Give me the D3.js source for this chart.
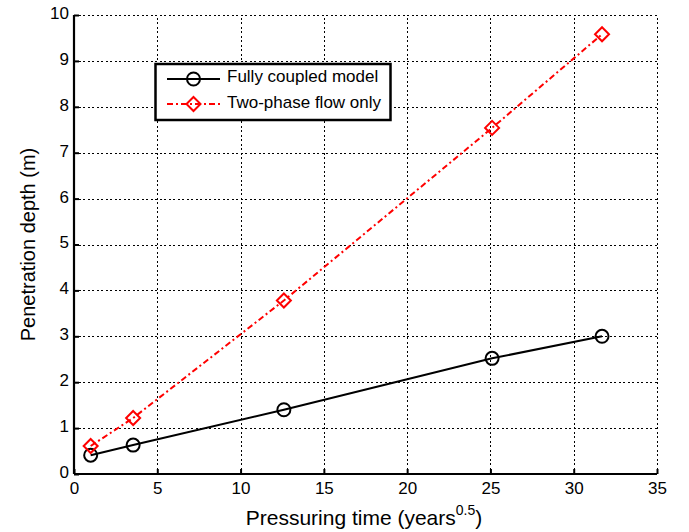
<!DOCTYPE html>
<html>
<head>
<meta charset="utf-8">
<script src="https://cdn.jsdelivr.net/npm/d3@7"></script>
<style>
  body { margin: 0; background: #fff; }
  text { font-family: "Liberation Sans", Arial, sans-serif; }
</style>
</head>
<body>
<svg id="chart" width="689" height="532"></svg>
<script>
const timeValues = [1, 3.55, 12.6, 25.1, 31.7];
const fullyCoupled = [0.41, 0.63, 1.40, 2.52, 3.0];
const twoPhase = [0.61, 1.22, 3.78, 7.54, 9.58];
const seriesNames = ["Fully coupled model", "Two-phase flow only"];
const xTicks = [0, 5, 10, 15, 20, 25, 30, 35];
const yTicks = [0, 1, 2, 3, 4, 5, 6, 7, 8, 9, 10];

const svg = d3.select("#chart");
const pLeft = 74, pRight = 657, pTop = 15, pBottom = 474;
const x = d3.scaleLinear().domain([0, 35]).range([pLeft, pRight]);
const y = d3.scaleLinear().domain([0, 10]).range([pBottom, pTop]);

// grid
const grid = svg.append("g").attr("stroke", "#000").attr("stroke-width", 1)
  .attr("stroke-dasharray", "2,2.5").attr("shape-rendering", "crispEdges");
xTicks.slice(1).forEach(t => grid.append("line")
  .attr("x1", Math.round(x(t)) + 0.5).attr("x2", Math.round(x(t)) + 0.5)
  .attr("y1", pBottom).attr("y2", pTop));
yTicks.slice(1).forEach(t => grid.append("line")
  .attr("y1", Math.round(y(t)) + 0.5).attr("y2", Math.round(y(t)) + 0.5)
  .attr("x1", pLeft).attr("x2", pRight));

// axes
const xAxis = svg.append("g").attr("transform", `translate(0,${pBottom})`)
  .call(d3.axisBottom(x).tickValues(xTicks).tickSize(-5).tickPadding(8).tickFormat(d3.format("d")));
const yAxis = svg.append("g").attr("transform", `translate(${pLeft},0)`)
  .call(d3.axisLeft(y).tickValues(yTicks).tickSize(-5).tickPadding(5).tickFormat(d3.format("d")));
[xAxis, yAxis].forEach(a => {
  a.select(".domain").attr("stroke", "#000").attr("stroke-width", 2.2);
  a.selectAll(".tick line").attr("stroke", "#000").attr("stroke-width", 2);
  a.selectAll(".tick text").attr("font-size", 17).attr("fill", "#000")
    .attr("font-family", "Liberation Sans, Arial, sans-serif");
});
yAxis.selectAll(".tick text").attr("dy", "0.2em");
xAxis.select(".domain").attr("d", `M${pLeft},0H${pRight}`);
yAxis.select(".domain").attr("d", `M0,${pBottom}V${pTop}`);

// lines
const line = d3.line().x((d, i) => x(timeValues[i])).y(d => y(d));
svg.append("path").datum(fullyCoupled).attr("d", line)
  .attr("fill", "none").attr("stroke", "#000").attr("stroke-width", 2);
svg.append("path").datum(twoPhase).attr("d", line)
  .attr("fill", "none").attr("stroke", "#f00").attr("stroke-width", 2)
  .attr("stroke-dasharray", "6,3,2,3");

function circleMarker(g, cx, cy) {
  g.append("circle").attr("cx", cx).attr("cy", cy).attr("r", 6.5)
    .attr("fill", "none").attr("stroke", "#000").attr("stroke-width", 2);
}
function diamondMarker(g, cx, cy) {
  const s = 7;
  g.append("path").attr("d", `M${cx},${cy - s}L${cx + s},${cy}L${cx},${cy + s}L${cx - s},${cy}Z`)
    .attr("fill", "none").attr("stroke", "#f00").attr("stroke-width", 2);
}
fullyCoupled.forEach((v, i) => circleMarker(svg, x(timeValues[i]), y(v)));
twoPhase.forEach((v, i) => diamondMarker(svg, x(timeValues[i]), y(v)));

// legend
const lg = svg.append("g");
lg.append("rect").attr("x", 155.5).attr("y", 64).attr("width", 235).attr("height", 56)
  .attr("fill", "#fff").attr("stroke", "#000").attr("stroke-width", 2.5);
lg.append("line").attr("x1", 167).attr("x2", 220).attr("y1", 79).attr("y2", 79)
  .attr("stroke", "#000").attr("stroke-width", 2);
circleMarker(lg, 193.5, 79);
lg.append("line").attr("x1", 167).attr("x2", 220).attr("y1", 104).attr("y2", 104)
  .attr("stroke", "#f00").attr("stroke-width", 2).attr("stroke-dasharray", "6,3,2,3");
diamondMarker(lg, 193.5, 104);
lg.append("text").attr("x", 227).attr("y", 82).attr("font-size", 17).text(seriesNames[0]);
lg.append("text").attr("x", 227).attr("y", 108).attr("font-size", 17).text(seriesNames[1]);

// axis titles
const xt = svg.append("text").attr("x", 364).attr("y", 525).attr("text-anchor", "middle")
  .attr("font-size", 21);
xt.append("tspan").text("Pressuring time (years");
xt.append("tspan").attr("font-size", 14).attr("dy", -10).text("0.5");
xt.append("tspan").attr("dy", 10).text(")");

svg.append("text").attr("transform", `translate(35,${(pTop + pBottom) / 2}) rotate(-90)`)
  .attr("text-anchor", "middle").attr("font-size", 20).text("Penetration depth (m)");
</script>
</body>
</html>
